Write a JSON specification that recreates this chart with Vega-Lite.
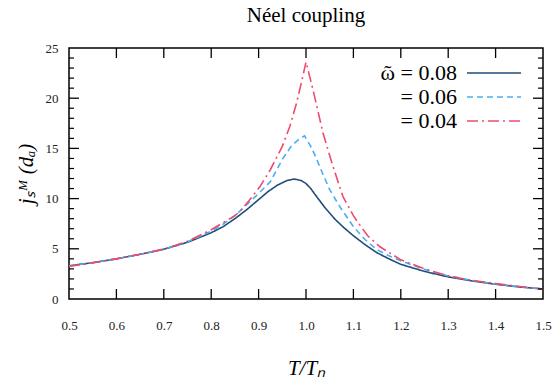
{
  "$schema": "https://vega.github.io/schema/vega-lite/v6.json",
  "width": 474,
  "height": 251,
  "autosize": {"type": "none"},
  "padding": {"left": 69, "top": 48, "right": 13, "bottom": 80},
  "background": "white",
  "config": {
    "font": "Liberation Serif",
    "view": {"stroke": "black", "strokeWidth": 1.5},
    "axis": {"domain": false, "ticks": false, "grid": false, "labelColor": "#222", "labelFont": "Liberation Serif", "labelFontSize": 13, "titleFont": "Liberation Serif", "titleColor": "black", "titleFontWeight": "normal"},
    "legend": {"labelFont": "Liberation Serif"}
  },
  "title": {"text": "Néel coupling", "font": "Liberation Serif", "fontSize": 21, "fontWeight": "normal", "color": "black", "anchor": "middle", "offset": 16},
  "datasets": {
    "xt": [{"v": 0.6}, {"v": 0.7}, {"v": 0.8}, {"v": 0.9}, {"v": 1.0}, {"v": 1.1}, {"v": 1.2}, {"v": 1.3}, {"v": 1.4}],
    "ymaj": [{"v": 5}, {"v": 10}, {"v": 15}, {"v": 20}],
    "ymin": [{"v": 1}, {"v": 2}, {"v": 3}, {"v": 4}, {"v": 6}, {"v": 7}, {"v": 8}, {"v": 9}, {"v": 11}, {"v": 12}, {"v": 13}, {"v": 14}, {"v": 16}, {"v": 17}, {"v": 18}, {"v": 19}, {"v": 21}, {"v": 22}, {"v": 23}, {"v": 24}]
  },
  "data": {"values": [
    {"t": 0.50, "j": 3.3, "w": "0.08"}, {"t": 0.55, "j": 3.62, "w": "0.08"}, {"t": 0.60, "j": 4.0, "w": "0.08"}, {"t": 0.65, "j": 4.45, "w": "0.08"}, {"t": 0.70, "j": 4.95, "w": "0.08"}, {"t": 0.75, "j": 5.65, "w": "0.08"}, {"t": 0.80, "j": 6.6, "w": "0.08"}, {"t": 0.825, "j": 7.2, "w": "0.08"}, {"t": 0.85, "j": 8.0, "w": "0.08"}, {"t": 0.875, "j": 8.9, "w": "0.08"}, {"t": 0.90, "j": 9.9, "w": "0.08"}, {"t": 0.92, "j": 10.7, "w": "0.08"}, {"t": 0.94, "j": 11.35, "w": "0.08"}, {"t": 0.96, "j": 11.8, "w": "0.08"}, {"t": 0.975, "j": 11.95, "w": "0.08"}, {"t": 0.99, "j": 11.8, "w": "0.08"}, {"t": 1.00, "j": 11.5, "w": "0.08"}, {"t": 1.01, "j": 11.0, "w": "0.08"}, {"t": 1.02, "j": 10.35, "w": "0.08"}, {"t": 1.04, "j": 9.1, "w": "0.08"}, {"t": 1.06, "j": 8.0, "w": "0.08"}, {"t": 1.08, "j": 7.1, "w": "0.08"}, {"t": 1.10, "j": 6.3, "w": "0.08"}, {"t": 1.125, "j": 5.4, "w": "0.08"}, {"t": 1.15, "j": 4.6, "w": "0.08"}, {"t": 1.175, "j": 4.0, "w": "0.08"}, {"t": 1.20, "j": 3.45, "w": "0.08"}, {"t": 1.25, "j": 2.75, "w": "0.08"}, {"t": 1.30, "j": 2.2, "w": "0.08"}, {"t": 1.35, "j": 1.8, "w": "0.08"}, {"t": 1.40, "j": 1.47, "w": "0.08"}, {"t": 1.45, "j": 1.2, "w": "0.08"}, {"t": 1.50, "j": 1.0, "w": "0.08"},
    {"t": 0.50, "j": 3.3, "w": "0.06"}, {"t": 0.55, "j": 3.62, "w": "0.06"}, {"t": 0.60, "j": 4.0, "w": "0.06"}, {"t": 0.65, "j": 4.45, "w": "0.06"}, {"t": 0.70, "j": 4.97, "w": "0.06"}, {"t": 0.75, "j": 5.7, "w": "0.06"}, {"t": 0.80, "j": 6.75, "w": "0.06"}, {"t": 0.825, "j": 7.45, "w": "0.06"}, {"t": 0.85, "j": 8.3, "w": "0.06"}, {"t": 0.875, "j": 9.4, "w": "0.06"}, {"t": 0.90, "j": 10.5, "w": "0.06"}, {"t": 0.925, "j": 11.7, "w": "0.06"}, {"t": 0.95, "j": 13.9, "w": "0.06"}, {"t": 0.97, "j": 15.3, "w": "0.06"}, {"t": 0.985, "j": 15.9, "w": "0.06"}, {"t": 0.997, "j": 16.25, "w": "0.06"}, {"t": 1.01, "j": 15.2, "w": "0.06"}, {"t": 1.02, "j": 14.2, "w": "0.06"}, {"t": 1.035, "j": 12.5, "w": "0.06"}, {"t": 1.05, "j": 10.9, "w": "0.06"}, {"t": 1.07, "j": 9.3, "w": "0.06"}, {"t": 1.10, "j": 7.2, "w": "0.06"}, {"t": 1.125, "j": 5.9, "w": "0.06"}, {"t": 1.15, "j": 4.9, "w": "0.06"}, {"t": 1.175, "j": 4.3, "w": "0.06"}, {"t": 1.20, "j": 3.8, "w": "0.06"}, {"t": 1.25, "j": 2.95, "w": "0.06"}, {"t": 1.30, "j": 2.3, "w": "0.06"}, {"t": 1.35, "j": 1.85, "w": "0.06"}, {"t": 1.40, "j": 1.5, "w": "0.06"}, {"t": 1.45, "j": 1.22, "w": "0.06"}, {"t": 1.50, "j": 1.0, "w": "0.06"},
    {"t": 0.50, "j": 3.25, "w": "0.04"}, {"t": 0.55, "j": 3.6, "w": "0.04"}, {"t": 0.60, "j": 4.0, "w": "0.04"}, {"t": 0.65, "j": 4.45, "w": "0.04"}, {"t": 0.70, "j": 4.97, "w": "0.04"}, {"t": 0.75, "j": 5.75, "w": "0.04"}, {"t": 0.80, "j": 6.9, "w": "0.04"}, {"t": 0.825, "j": 7.6, "w": "0.04"}, {"t": 0.85, "j": 8.3, "w": "0.04"}, {"t": 0.86, "j": 8.7, "w": "0.04"}, {"t": 0.88, "j": 9.8, "w": "0.04"}, {"t": 0.903, "j": 11.2, "w": "0.04"}, {"t": 0.925, "j": 12.9, "w": "0.04"}, {"t": 0.95, "j": 15.2, "w": "0.04"}, {"t": 0.966, "j": 17.2, "w": "0.04"}, {"t": 0.98, "j": 19.5, "w": "0.04"}, {"t": 0.99, "j": 21.5, "w": "0.04"}, {"t": 1.0, "j": 23.6, "w": "0.04"}, {"t": 1.015, "j": 20.8, "w": "0.04"}, {"t": 1.036, "j": 16.5, "w": "0.04"}, {"t": 1.057, "j": 13.2, "w": "0.04"}, {"t": 1.078, "j": 10.2, "w": "0.04"}, {"t": 1.10, "j": 8.3, "w": "0.04"}, {"t": 1.11, "j": 7.6, "w": "0.04"}, {"t": 1.13, "j": 6.3, "w": "0.04"}, {"t": 1.156, "j": 5.2, "w": "0.04"}, {"t": 1.20, "j": 3.9, "w": "0.04"}, {"t": 1.25, "j": 3.0, "w": "0.04"}, {"t": 1.30, "j": 2.3, "w": "0.04"}, {"t": 1.35, "j": 1.85, "w": "0.04"}, {"t": 1.40, "j": 1.55, "w": "0.04"}, {"t": 1.45, "j": 1.25, "w": "0.04"}, {"t": 1.50, "j": 1.0, "w": "0.04"}
  ]},
  "layer": [
    {
      "mark": {"type": "line", "strokeWidth": 1.6, "clip": true},
      "encoding": {
        "x": {"field": "t", "type": "quantitative", "scale": {"domain": [0.5, 1.5], "nice": false, "zero": false},
          "axis": {"orient": "bottom", "title": "T/Tₙ", "titleFontSize": 21, "titleFontStyle": "italic", "titlePadding": 25, "values": [0.5, 0.6, 0.7, 0.8, 0.9, 1.0, 1.1, 1.2, 1.3, 1.4, 1.5], "format": ".1f", "labelPadding": 20, "labelFlush": false}},
        "y": {"field": "j", "type": "quantitative", "scale": {"domain": [0, 25], "nice": false},
          "axis": {"orient": "left", "title": "jₛᴹ (dₐ)", "titleFontSize": 21, "titleFontStyle": "italic", "titlePadding": 9,
            "values": [0, 5, 10, 15, 20, 25], "format": "d", "labelPadding": 11}},
        "color": {"field": "w", "type": "nominal", "sort": ["0.08", "0.06", "0.04"],
          "scale": {"domain": ["0.08", "0.06", "0.04"], "range": ["#1f4e79", "#4aaef5", "#ef4b6c"]},
          "legend": {"orient": "none", "legendX": 413, "legendY": 13, "title": null, "padding": 0, "labelFont": "Liberation Serif", "labelFontSize": 22, "labelColor": "black", "labelAlign": "right", "labelOffset": -49, "symbolType": "M-2.5,0H2.5", "symbolSize": 467, "symbolStrokeWidth": 1.5, "rowPadding": 1,
            "labelExpr": "datum.value == '0.08' ? 'ῶ = 0.08' : '= ' + datum.value"}},
        "strokeDash": {"field": "w", "type": "nominal", "sort": ["0.08", "0.06", "0.04"],
          "scale": {"domain": ["0.08", "0.06", "0.04"], "range": [[1, 0], [6, 4], [11, 4, 2, 4]]}, "legend": null}
      }
    },
    {
      "data": {"name": "xt"},
      "mark": {"type": "tick", "orient": "vertical", "size": 10, "thickness": 1.3, "color": "black", "opacity": 1, "yOffset": -5},
      "encoding": {
        "x": {"field": "v", "type": "quantitative", "axis": null},
        "y": {"datum": 0, "type": "quantitative", "axis": null}
      }
    },
    {
      "data": {"name": "xt"},
      "mark": {"type": "tick", "orient": "vertical", "size": 10, "thickness": 1.3, "color": "black", "opacity": 1, "yOffset": 5},
      "encoding": {
        "x": {"field": "v", "type": "quantitative", "axis": null},
        "y": {"datum": 25, "type": "quantitative", "axis": null}
      }
    },
    {
      "data": {"name": "ymaj"},
      "mark": {"type": "tick", "orient": "horizontal", "size": 10, "thickness": 1.3, "color": "black", "opacity": 1, "xOffset": 5},
      "encoding": {
        "y": {"field": "v", "type": "quantitative", "axis": null},
        "x": {"datum": 0.5, "type": "quantitative", "axis": null}
      }
    },
    {
      "data": {"name": "ymaj"},
      "mark": {"type": "tick", "orient": "horizontal", "size": 10, "thickness": 1.3, "color": "black", "opacity": 1, "xOffset": -5},
      "encoding": {
        "y": {"field": "v", "type": "quantitative", "axis": null},
        "x": {"datum": 1.5, "type": "quantitative", "axis": null}
      }
    },
    {
      "data": {"name": "ymin"},
      "mark": {"type": "tick", "orient": "horizontal", "size": 5, "thickness": 1.2, "color": "black", "opacity": 1, "xOffset": 2.5},
      "encoding": {
        "y": {"field": "v", "type": "quantitative", "axis": null},
        "x": {"datum": 0.5, "type": "quantitative", "axis": null}
      }
    },
    {
      "data": {"name": "ymin"},
      "mark": {"type": "tick", "orient": "horizontal", "size": 5, "thickness": 1.2, "color": "black", "opacity": 1, "xOffset": -2.5},
      "encoding": {
        "y": {"field": "v", "type": "quantitative", "axis": null},
        "x": {"datum": 1.5, "type": "quantitative", "axis": null}
      }
    }
  ],
  "resolve": {"axis": {"x": "independent", "y": "independent"}}
}
